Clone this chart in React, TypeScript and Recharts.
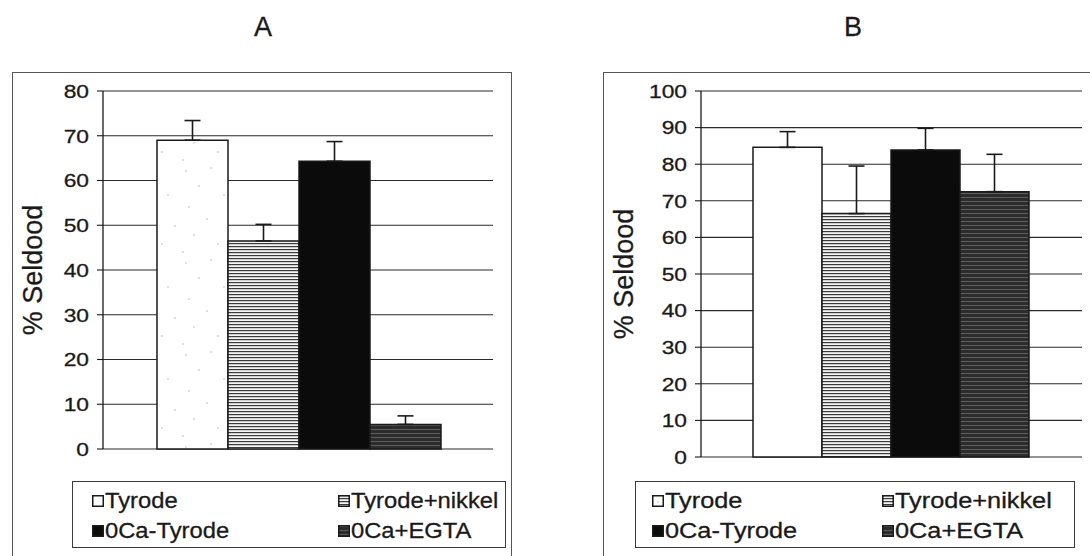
import React from 'react';
import { BarChart, Bar, XAxis, YAxis, CartesianGrid, ErrorBar } from 'recharts';

// Treatment groups, shared by both panels
const seriesNames = ['Tyrode', 'Tyrode+nikkel', '0Ca-Tyrode', '0Ca+EGTA'];
const seriesKeys = ['tyrode', 'nikkel', 'ca0', 'egta'];

// Panel A: % cell death, mean and upper error
const valuesA = [69.0, 46.5, 64.3, 5.5];
const errorsA = [4.4, 3.7, 4.4, 1.9];
const ticksA = [0, 10, 20, 30, 40, 50, 60, 70, 80];

// Panel B: % cell death, mean and upper error
const valuesB = [84.6, 66.5, 83.9, 72.5];
const errorsB = [4.3, 13.0, 5.9, 10.2];
const ticksB = [0, 10, 20, 30, 40, 50, 60, 70, 80, 90, 100];

const FONT = '"Liberation Sans", Arial, Helvetica, sans-serif';
const INK = '#1a1a1a';

function buildRow(panel: string, values: number[], errors: number[]) {
  const row: Record<string, any> = { panel };
  seriesKeys.forEach((k, i) => {
    row[k] = values[i];
    row[k + 'Err'] = [0, errors[i]];
  });
  return [row];
}

const dataA = buildRow('A', valuesA, errorsA);
const dataB = buildRow('B', valuesB, errorsB);

// fills used for bars and legend swatches
const barFillsA = ['url(#stipple)', 'url(#hstripe)', '#0b0b0b', 'url(#darkstripe)'];
const swatchFillsA = ['#ffffff', 'url(#hstripe)', '#0b0b0b', 'url(#darkstripe)'];
const barFillsB = ['#ffffff', 'url(#hstripe)', '#0b0b0b', 'url(#darkstripe)'];
const swatchFillsB = ['url(#stipple)', 'url(#hstripe)', '#0b0b0b', 'url(#darkstripe)'];

const stippleDots: [number, number][] = [
  [6, 7], [31, 4], [19, 22], [44, 31], [9, 43], [27, 55], [51, 62], [14, 71], [38, 80], [3, 88],
];

function Patterns() {
  return (
    <svg width={0} height={0} style={{ position: 'absolute', left: 0, top: 0 }}>
      <defs>
        <pattern id="stipple" patternUnits="userSpaceOnUse" width={56} height={92}>
          <rect width={56} height={92} fill="#ffffff" />
          {stippleDots.map(([cx, cy], i) => (
            <circle key={i} cx={cx} cy={cy} r={0.7} fill="#a8a8a8" />
          ))}
        </pattern>
        <pattern id="hstripe" patternUnits="userSpaceOnUse" width={6} height={3}>
          <rect width={6} height={3} fill="#f4f4f4" />
          <rect y={0} width={6} height={1.2} fill="#3a3a3a" />
        </pattern>
        <pattern id="darkstripe" patternUnits="userSpaceOnUse" width={6} height={4}>
          <rect width={6} height={4} fill="#2c2c2c" />
          <rect y={1} width={6} height={1} fill="#5e5e5e" />
        </pattern>
      </defs>
    </svg>
  );
}

// y tick label, slightly widened like the printed figure
function WideTick(props: any) {
  const { x, y, payload } = props;
  return (
    <text
      x={x}
      y={y}
      dy="0.36em"
      textAnchor="end"
      fontSize={19}
      fontFamily={FONT}
      fill={INK}
      stroke={INK}
      strokeWidth={0.3}
      transform={`translate(${x} ${y}) scale(1.2 1) translate(${-x} ${-y})`}
    >
      {payload.value}
    </text>
  );
}

type PanelProps = {
  data: any[];
  ticks: number[];
  max: number;
  fills: string[];
  width: number;
  height: number;
  axisWidth: number;
  margin: { top: number; right: number; bottom: number; left: number };
  gap: number;
};

function Panel({ data, ticks, max, fills, width, height, axisWidth, margin, gap }: PanelProps) {
  return (
    <BarChart
      width={width}
      height={height}
      data={data}
      margin={margin}
      barCategoryGap={gap}
      barGap={0}
    >
      <CartesianGrid yAxisId="left" vertical={false} stroke="#2a2a2a" strokeWidth={1.1} />
      <XAxis
        dataKey="panel"
        height={0}
        tick={false}
        tickLine={false}
        axisLine={{ stroke: INK, strokeWidth: 1.3 }}
      />
      <YAxis
        yAxisId="left"
        domain={[0, max]}
        ticks={ticks}
        interval={0}
        width={axisWidth}
        tickSize={6}
        tickMargin={8}
        axisLine={{ stroke: INK, strokeWidth: 1.3 }}
        tickLine={{ stroke: INK, strokeWidth: 1.1 }}
        tick={<WideTick />}
        label={{
          value: '% Seldood',
          angle: -90,
          position: 'insideLeft',
          offset: 20,
          style: { textAnchor: 'middle', fontSize: 27, fill: INK, fontFamily: FONT, stroke: INK, strokeWidth: 0.3 },
        }}
      />
      <YAxis
        yAxisId="right"
        orientation="right"
        domain={[0, max]}
        width={0}
        tick={false}
        tickLine={false}
        axisLine={{ stroke: INK, strokeWidth: 1.3 }}
      />
      {seriesKeys.map((k, i) => (
        <Bar
          key={k}
          yAxisId="left"
          dataKey={k}
          name={seriesNames[i]}
          fill={fills[i]}
          stroke={INK}
          strokeWidth={1.5}
          isAnimationActive={false}
        >
          <ErrorBar dataKey={k + 'Err'} width={8} stroke={INK} strokeWidth={1.6} direction="y" />
        </Bar>
      ))}
    </BarChart>
  );
}

type LegendProps = {
  left: number;
  width: number;
  fills: string[];
  col1: number;
  col2: number;
  fontSize: number;
  stretch: number;
};

function LegendBox({ left, width, fills, col1, col2, fontSize, stretch }: LegendProps) {
  return (
    <div
      style={{
        position: 'absolute',
        left,
        top: 481,
        width,
        height: 67,
        border: '1px solid #3a3a3a',
        background: '#fff',
        boxSizing: 'border-box',
        fontFamily: FONT,
        color: INK,
      }}
    >
      {seriesNames.map((name, i) => {
        const col = i % 2 === 0 ? col1 : col2;
        const rowCenter = i < 2 ? 19 : 49;
        return (
          <div
            key={name}
            style={{
              position: 'absolute',
              left: col,
              top: rowCenter - 13,
              height: 26,
              display: 'flex',
              alignItems: 'center',
              whiteSpace: 'nowrap',
              fontSize,
            }}
          >
            <svg width={12} height={12} style={{ marginRight: 1, flex: 'none' }}>
              <rect x={0.75} y={0.75} width={10.5} height={10.5} fill={fills[i]} stroke={INK} strokeWidth={1.5} />
            </svg>
            <span
              style={{
                display: 'inline-block',
                transform: `scaleX(${stretch})`,
                transformOrigin: 'left center',
                WebkitTextStroke: '0.3px #1a1a1a',
              }}
            >
              {name}
            </span>
          </div>
        );
      })}
    </div>
  );
}

export default function App() {
  return (
    <div
      style={{
        position: 'absolute',
        left: 0,
        top: 0,
        width: 1090,
        height: 556,
        overflow: 'hidden',
        background: '#fff',
      }}
    >
      <Patterns />
      <svg width={1090} height={60} style={{ position: 'absolute', left: 0, top: 0 }}>
        <text x={263} y={36} textAnchor="middle" fontSize={27} fontFamily={FONT} fill={INK} stroke={INK} strokeWidth={0.3}>A</text>
        <text x={853} y={36} textAnchor="middle" fontSize={27} fontFamily={FONT} fill={INK} stroke={INK} strokeWidth={0.3}>B</text>
      </svg>

      {/* panel frames */}
      <div style={{ position: 'absolute', left: 12, top: 72, width: 500, height: 520, border: '1px solid #555', boxSizing: 'border-box' }} />
      <div style={{ position: 'absolute', left: 603, top: 72, width: 520, height: 520, border: '1px solid #555', boxSizing: 'border-box' }} />

      <div style={{ position: 'absolute', left: 12, top: 72 }}>
        <Panel
          data={dataA}
          ticks={ticksA}
          max={80}
          fills={barFillsA}
          width={500}
          height={484}
          axisWidth={91}
          margin={{ top: 19, right: 19, bottom: 107, left: 0 }}
          gap={54}
        />
      </div>
      <div style={{ position: 'absolute', left: 603, top: 72 }}>
        <Panel
          data={dataB}
          ticks={ticksB}
          max={100}
          fills={barFillsB}
          width={487}
          height={484}
          axisWidth={98}
          margin={{ top: 19, right: 8, bottom: 99, left: 0 }}
          gap={52}
        />
      </div>

      <LegendBox left={72} width={434} fills={swatchFillsA} col1={19} col2={265} fontSize={22} stretch={1.08} />
      <LegendBox left={635} width={440} fills={swatchFillsB} col1={16} col2={246} fontSize={22} stretch={1.15} />
    </div>
  );
}
